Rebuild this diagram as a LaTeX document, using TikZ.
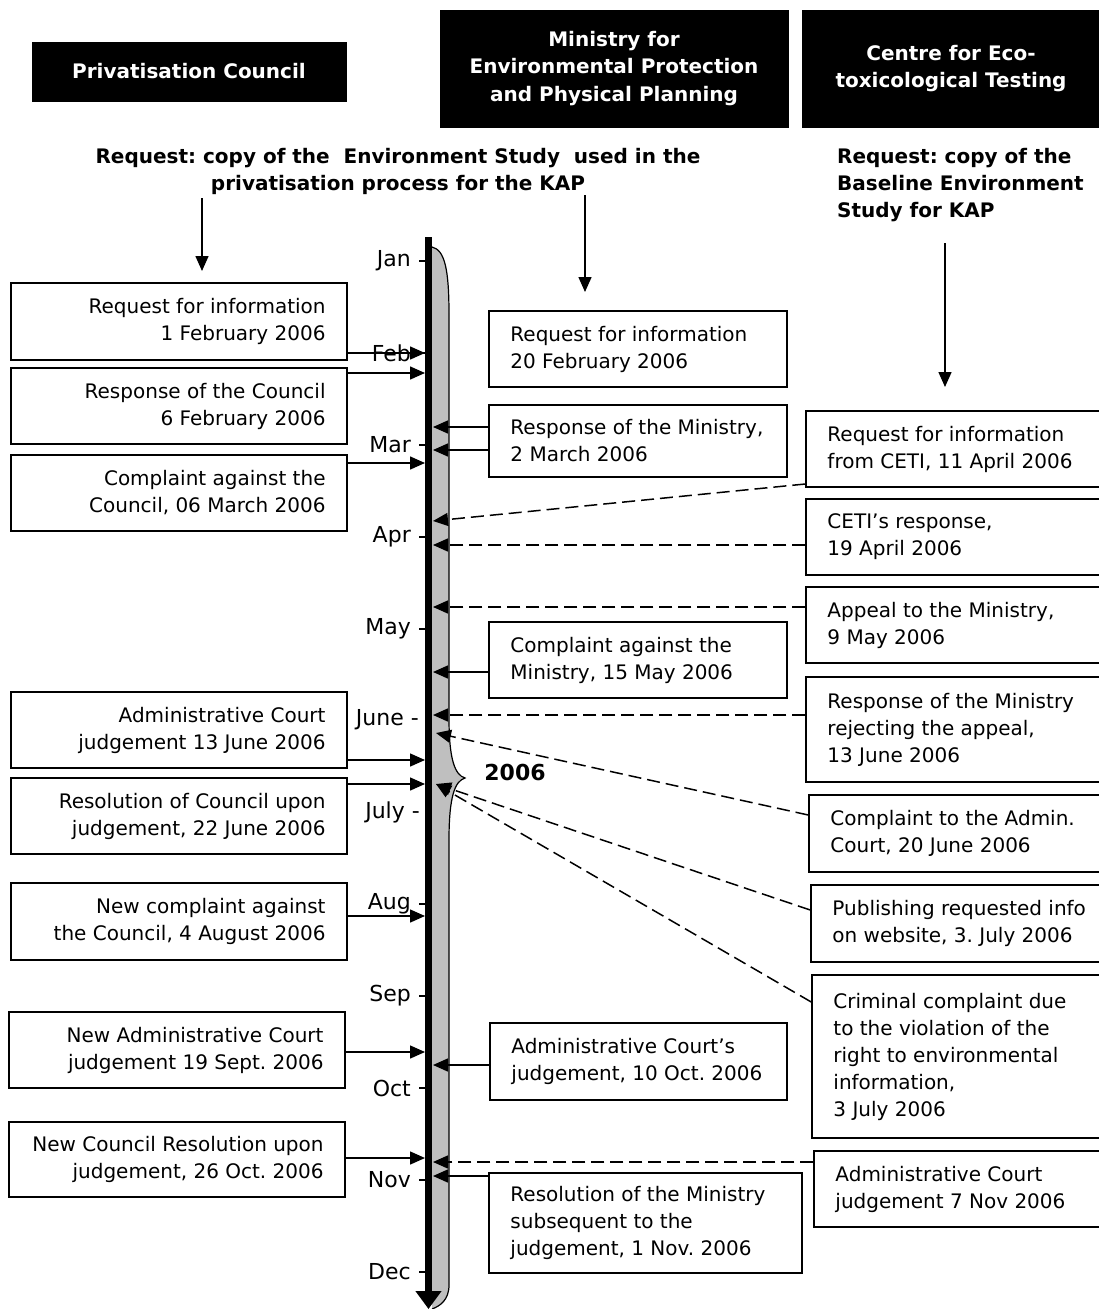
\documentclass[tikz,border=0pt]{standalone}
\usepackage{fontspec}
\setmainfont{DejaVu Sans}
\usetikzlibrary{arrows.meta,fit}
\frenchspacing
\newcommand{\lbox}[6]{%
  \node[evbox, fit={(#2,#3) (#4,#5)}] (#1) {};
  \node[evtext, align=right, anchor=east] (#1t) at ([xshift=-22pt]#1.east) {#6};}
\newcommand{\rbox}[6]{%
  \node[evbox, fit={(#2,#3) (#4,#5)}] (#1) {};
  \node[evtext, align=left, anchor=west] (#1t) at ([xshift=22pt]#1.west) {#6};}
\begin{document}
\frenchspacing
\begin{tikzpicture}[x=1pt,y=-1pt,
  evbox/.style={draw=black, line width=1.5pt, inner sep=0pt},
  evtext/.style={inner sep=0pt, font=\fontsize{20}{27}\selectfont},
  hdr/.style={fill=black, draw=black, text=white, font=\fontsize{20}{27.5}\selectfont\bfseries, align=center, inner sep=0pt},
  rq/.style={font=\fontsize{20}{27}\selectfont\bfseries, inner sep=0pt},
  arr/.style={line width=1.5pt, -{Triangle[length=15pt,width=13pt]}},
  darr/.style={arr, dash pattern=on 13pt off 6pt},
  month/.style={font=\fontsize{22}{24}\selectfont, inner sep=0pt, anchor=east},
  tickln/.style={line width=1.5pt}]
\useasboundingbox (0,0) rectangle (1099,1309);
\clip (0,0) rectangle (1099,1309);

% headers
\node[hdr, minimum width=314pt, minimum height=59pt] (hpc) at (189,71.5) {Privatisation Council};
\node[hdr, minimum width=348pt, minimum height=117pt] (hmin) at (614,68.5) {Ministry for\\Environmental Protection\\and Physical Planning};
\node[hdr, minimum width=298pt, minimum height=117pt] (hcet) at (951,68.5) {Centre for Eco-\\toxicological Testing};

% requests
\node[rq, align=center] (rq1) at (398,171) {Request: copy of the\ \ Environment Study\ \ used in the\\privatisation process for the KAP};
\node[rq, align=left, anchor=west] (rq2) at (837,185) {Request: copy of the\\Baseline Environment\\Study for KAP};

\coordinate (a1s) at (202,198); \coordinate (a1e) at (202,271);
\coordinate (a2s) at (585,195); \coordinate (a2e) at (585,292);
\coordinate (a3s) at (945,243); \coordinate (a3e) at (945,387);
\draw[arr] (a1s) -- (a1e);
\draw[arr] (a2s) -- (a2e);
\draw[arr] (a3s) -- (a3e);

% timeline band (brace)
\fill[black!25] (432,247) .. controls (445,250) and (449,270) .. (449,315) -- (449,718)
  .. controls (449,760) and (455,775) .. (465,778)
  .. controls (455,781) and (449,796) .. (449,840) -- (449,1285)
  .. controls (449,1300) and (440,1306) .. (432,1309) -- cycle;
\draw[line width=1.2pt] (432,247) .. controls (445,250) and (449,270) .. (449,315) -- (449,718)
  .. controls (449,760) and (455,775) .. (465,778)
  .. controls (455,781) and (449,796) .. (449,840) -- (449,1285)
  .. controls (449,1300) and (440,1306) .. (432,1309);
\coordinate (tlTop) at (428.5,237);
\coordinate (tlBot) at (428.5,1309);
\draw[line width=7pt, -{Triangle[length=18pt,width=25pt]}] (tlTop) -- (tlBot);
\coordinate (tlL) at (425,0);
\coordinate (tlR) at (433,0);

\node[font=\fontsize{22}{22}\selectfont\bfseries, inner sep=0pt] (yr) at (515,772) {2006};

% months
\foreach \m/\yy in {Jan/261,Feb/353,Mar/445,Apr/537,May/629,Aug/904,Sep/996,Oct/1088,Nov/1180,Dec/1272}{
  \node[month] (m\m) at (411,\yy) {\m};
  \draw[tickln] (419,\yy) -- (425,\yy);
}
\node[month] (mJun) at (419,720) {June -};
\node[month] (mJul) at (420,812) {July -};

% left boxes
\lbox{L1}{11}{283}{347}{360}{Request for information\\1 February 2006}
\lbox{L2}{11}{368}{347}{444}{Response of the Council\\6 February 2006}
\lbox{L3}{11}{455}{347}{531}{Complaint against the\\Council, 06 March 2006}
\lbox{L4}{11}{692}{347}{768}{Administrative Court\\judgement 13 June 2006}
\lbox{L5}{11}{778}{347}{854}{Resolution of Council upon\\judgement, 22 June 2006}
\lbox{L6}{11}{883}{347}{960}{New complaint against\\the Council, 4 August 2006}
\lbox{L7}{9}{1012}{345}{1088}{New Administrative Court\\judgement 19 Sept. 2006}
\lbox{L8}{9}{1122}{345}{1197}{New Council Resolution upon\\judgement, 26 Oct. 2006}

% middle boxes
\rbox{M1}{489}{311}{787}{387}{Request for information\\20 February 2006}
\rbox{M2}{489}{405}{787}{477}{Response of the Ministry,\\2 March 2006}
\rbox{M3}{489}{622}{787}{698}{Complaint against the\\Ministry, 15 May 2006}
\rbox{M4}{490}{1023}{787}{1100}{Administrative Court’s\\judgement, 10 Oct. 2006}
\rbox{M5}{489}{1173}{802}{1273}{Resolution of the Ministry\\subsequent to the\\judgement, 1 Nov. 2006}

% right boxes
\rbox{R1}{806}{411}{1110}{487}{Request for information\\from CETI, 11 April 2006}
\rbox{R2}{806}{499}{1110}{575}{CETI’s response,\\19 April 2006}
\rbox{R3}{806}{587}{1110}{663}{Appeal to the Ministry,\\9 May 2006}
\rbox{R4}{806}{677}{1110}{782}{Response of the Ministry\\rejecting the appeal,\\13 June 2006}
\rbox{R5}{809}{795}{1110}{872}{Complaint to the Admin.\\Court, 20 June 2006}
\rbox{R6}{811}{885}{1110}{962}{Publishing requested info\\on website, 3. July 2006}
\rbox{R7}{812}{975}{1110}{1138}{Criminal complaint due\\to the violation of the\\right to environmental\\information,\\3 July 2006}
\rbox{R8}{814}{1151}{1110}{1227}{Administrative Court\\judgement 7 Nov 2006}

% left connectors
\foreach \b/\yy in {L1/353,L2/373,L3/463,L4/760,L5/784,L6/916,L7/1052,L8/1158}{
  \draw[arr] (\b.east |- 0,\yy) -- (tlL |- 0,\yy);
}
% middle connectors
\foreach \b/\yy in {M2/427,M2/450,M3/672,M4/1065,M5/1176}{
  \draw[arr] (\b.west |- 0,\yy) -- (tlR |- 0,\yy);
}
% right dashed connectors
\draw[darr] (R1.west |- 0,484) -- (tlR |- 0,521);
\foreach \b/\yy in {R2/545,R3/607,R4/715,R8/1162}{
  \draw[darr] (\b.west |- 0,\yy) -- (tlR |- 0,\yy);
}
\coordinate (cJ) at (436,733);
\coordinate (cK) at (436,784);
\draw[darr] (R5.west |- 0,815) -- (cJ);
\draw[darr] (R6.west |- 0,910) -- (cK);
\draw[darr] (R7.west |- 0,1002) -- (cK);
\end{tikzpicture}
\end{document}
